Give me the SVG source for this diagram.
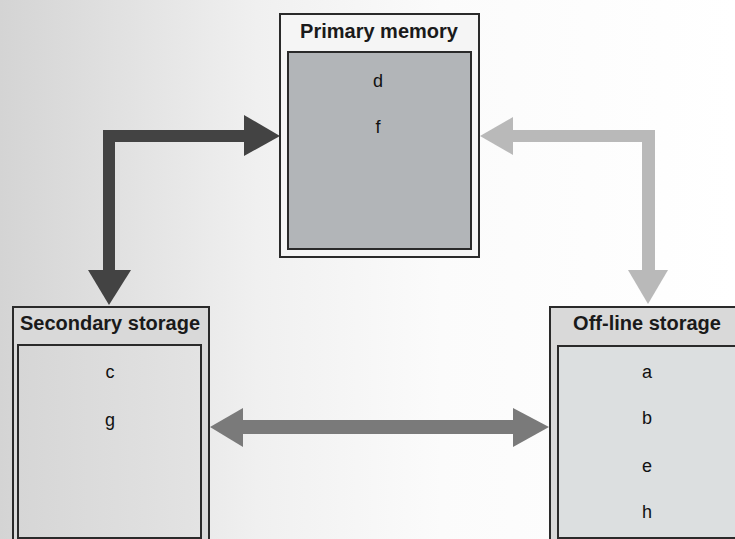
<svg xmlns="http://www.w3.org/2000/svg" width="735" height="539" viewBox="0 0 735 539">
<defs>
<linearGradient id="bg" x1="0" y1="0" x2="1" y2="0">
<stop offset="0" stop-color="#d4d4d4"/>
<stop offset="0.35" stop-color="#f0f0f0"/>
<stop offset="0.6" stop-color="#fbfbfb"/>
<stop offset="1" stop-color="#ffffff"/>
</linearGradient>
<linearGradient id="secfill" x1="0" y1="0" x2="1" y2="0">
<stop offset="0" stop-color="#d6d6d6"/>
<stop offset="1" stop-color="#e3e3e3"/>
</linearGradient>
<style>
.outer{stroke:#2a2a2a;stroke-width:2}
.inner{stroke:#2a2a2a;stroke-width:2}
.title{font-family:"Liberation Sans",Arial,sans-serif;font-weight:bold;font-size:20px;fill:#1a1a1a;text-anchor:middle}
.item{font-family:"Liberation Sans",Arial,sans-serif;font-size:18px;fill:#111111;text-anchor:middle}
</style>
</defs>
<rect x="0" y="0" width="735" height="539" fill="url(#bg)"/>

<g id="connectors">
<g id="dark-arrow" fill="#434343">
<rect x="103" y="130" width="142" height="12"/>
<rect x="103" y="130" width="12" height="141"/>
<polygon points="244,115 280,136 244,156"/>
<polygon points="88,270 131,270 109,305"/>
</g>
<g id="light-arrow" fill="#b9b9b9">
<rect x="512" y="130" width="143" height="12"/>
<rect x="642" y="130" width="13" height="141"/>
<polygon points="513,117 480,136 513,155"/>
<polygon points="628,270 668,270 648,304"/>
</g>
<g id="mid-arrow" fill="#7a7a7a">
<rect x="242" y="420" width="272" height="14"/>
<polygon points="243,408 210,427 243,447"/>
<polygon points="513,408 549,427 513,447"/>
</g>
</g>

<g id="primary-memory">
<rect class="outer" x="280" y="14" width="199" height="243" fill="#f5f5f5"/>
<rect class="inner" x="288" y="52" width="183" height="197" fill="#b2b5b8"/>
<text class="title" x="379" y="38">Primary memory</text>
<text class="item" x="378" y="87">d</text>
<text class="item" x="378" y="133">f</text>
</g>

<g id="secondary-storage">
<rect class="outer" x="13" y="307" width="196" height="240" fill="#d9d9d9"/>
<rect class="inner" x="18" y="345" width="183" height="193" fill="url(#secfill)"/>
<text class="title" x="110" y="330">Secondary storage</text>
<text class="item" x="110" y="378">c</text>
<text class="item" x="110" y="426">g</text>
</g>

<g id="offline-storage">
<rect class="outer" x="550" y="307" width="200" height="240" fill="#d9d9d9"/>
<rect class="inner" x="558" y="346" width="190" height="192" fill="#dcdfe0"/>
<text class="title" x="647" y="330">Off-line storage</text>
<text class="item" x="647" y="378">a</text>
<text class="item" x="647" y="424">b</text>
<text class="item" x="647" y="472">e</text>
<text class="item" x="647" y="518">h</text>
</g>
</svg>
